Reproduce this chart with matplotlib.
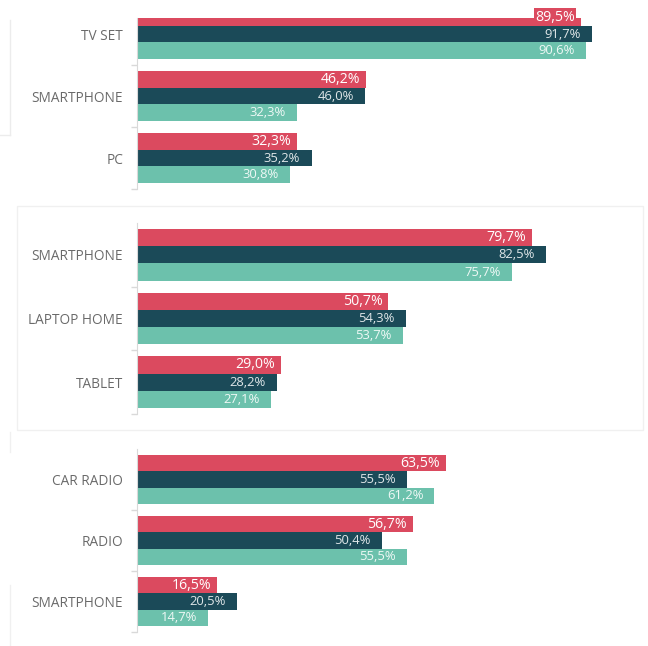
import matplotlib
matplotlib.use("Agg")
import matplotlib.pyplot as plt
from matplotlib.patches import Rectangle
from matplotlib.lines import Line2D

# three stacked panels, three series each
panel1_cats = ["TV SET", "SMARTPHONE", "PC"]
panel1_red = [89.5, 46.2, 32.3]
panel1_dark = [91.7, 46.0, 35.2]
panel1_green = [90.6, 32.3, 30.8]

panel2_cats = ["SMARTPHONE", "LAPTOP HOME", "TABLET"]
panel2_red = [79.7, 50.7, 29.0]
panel2_dark = [82.5, 54.3, 28.2]
panel2_green = [75.7, 53.7, 27.1]

panel3_cats = ["CAR RADIO", "RADIO", "SMARTPHONE"]
panel3_red = [63.5, 56.7, 16.5]
panel3_dark = [55.5, 50.4, 20.5]
panel3_green = [61.2, 55.5, 14.7]

RED = "#db4a5f"
DARK = "#1b4a58"
GREEN = "#6cc1ac"
GREY_TXT = "#6a6a6a"
SPINE = "#d9d9d9"

W, H = 648, 646
fig = plt.figure(figsize=(W / 100, H / 100), dpi=100)
plt.rcParams["font.family"] = ["Open Sans", "DejaVu Sans"]


def fmt(v):
    return f"{v:.1f}%".replace(".", ",")


def panel(top_px, bottom_px, width_px, cats, red, dark, green, ytop=-0.5):
    ax = fig.add_axes([137 / W, 1 - bottom_px / H, width_px / W, (bottom_px - top_px) / H])
    ys = list(range(len(cats)))
    h = 0.27
    series = [(red, RED, -h, "white", 10.2), (dark, DARK, 0, "#dfe6e8", 9.4),
              (green, GREEN, h, "#eef8f5", 9.4)]
    for vals, col, off, tcol, fs in series:
        pos = [y + off for y in ys]
        ax.barh(pos, vals, height=h, color=col, linewidth=0)
        for p, v in zip(pos, vals):
            if col == RED:
                # the label keeps its red box even where the bar is clipped
                box = None
                if p - h / 2 < ytop:
                    box = dict(boxstyle="square,pad=0.1", fc=col, ec="none")
                ax.text(v - 1.2, p, fmt(v), ha="right", va="center", color=tcol,
                        fontsize=fs, clip_on=False, bbox=box)
            else:
                ax.text(v - 2.3, p, fmt(v), ha="right", va="center", color=tcol,
                        fontsize=fs)
    ax.set_xlim(0, 100)
    ax.set_ylim(len(cats) - 0.5, ytop)
    ax.set_yticks(ys)
    ax.set_yticklabels(cats, color=GREY_TXT, fontsize=9.8)
    ax.set_yticks([y + 0.5 for y in ys], minor=True)
    ax.tick_params(axis="y", which="major", length=0, pad=10)
    ax.tick_params(axis="y", which="minor", length=4.5, color=SPINE, width=1)
    ax.set_xticks([])
    for s in ["top", "right", "bottom"]:
        ax.spines[s].set_visible(False)
    ax.spines["left"].set_color(SPINE)
    ax.patch.set_alpha(0)
    return ax


# faint card outlines behind the panels
fig.add_artist(Rectangle((17 / W, 1 - 430 / H), (643 - 17) / W, (430 - 206) / H,
                         transform=fig.transFigure, fill=False, ec="#f0f0f0", lw=1))
fig.add_artist(Line2D([10 / W, 10 / W], [1 - 20 / H, 1 - 135 / H], color="#ececec", lw=1))
fig.add_artist(Line2D([0, 10 / W], [1 - 135 / H, 1 - 135 / H], color="#ececec", lw=1))
fig.add_artist(Line2D([10 / W, 10 / W], [1 - 432 / H, 1 - 452 / H], color="#f0f0f0", lw=1))
fig.add_artist(Line2D([10 / W, 10 / W], [1 - 585 / H, 0], color="#f0f0f0", lw=1))

panel(18, 189, 496, panel1_cats, panel1_red, panel1_dark, panel1_green, ytop=-0.5 + 15 / 62)
panel(223, 414, 496, panel2_cats, panel2_red, panel2_dark, panel2_green)
panel(449, 632, 486, panel3_cats, panel3_red, panel3_dark, panel3_green)

fig.savefig("out.png", dpi=100)
